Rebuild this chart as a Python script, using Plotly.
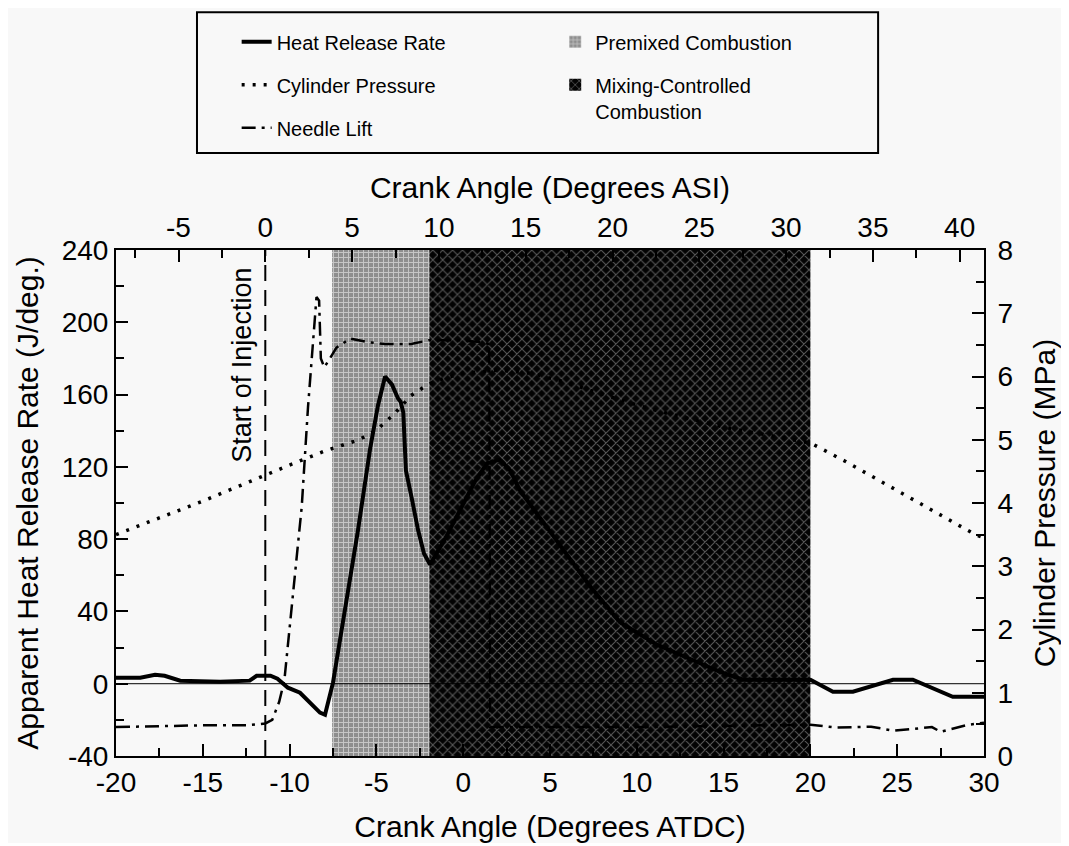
import plotly.graph_objects as go

# ---------------- data ----------------
# Heat release rate (J/deg) vs crank angle (deg ATDC)
hrr_x = [-20, -18.6, -17.75, -17.2, -16.3, -14, -12.3, -11.9, -11.1, -10.7, -10.1, -9.4,
         -8.25, -7.96, -7.5, -6.81, -6.06, -5.37, -4.91, -4.5, -4.1, -3.76, -3.6, -3.45,
         -3.3, -2.95, -2.6, -2.26, -1.91, -1.05, -0.18, 0.68, 1.37, 2.12, 2.7, 3.27, 4.71,
         6.15, 7.3, 9.03, 11.16, 13.24, 14.8, 16.12, 20.0, 21.3, 22.45, 24.76, 25.9, 28.2, 30]
hrr_y = [3.3, 3.3, 5.0, 4.4, 1.7, 1.1, 1.7, 4.4, 4.4, 2.8, -2.2, -5.0,
         -16.0, -17.2, 0.6, 41, 85, 129.5, 154, 170, 165.5, 158, 156, 150,
         118, 102, 85, 72, 66, 80, 96, 112, 122, 124, 118, 107, 88,
         69, 54, 34, 21.6, 13, 6.6, 2.2, 2.2, -4.4, -4.4, 2.2, 2.2, -7.2, -7.2]

# Cylinder pressure (MPa)
p_x = [-20, -15, -10, -8, -6, -5, -4, -3, -2, -1, 0, 2, 4, 6, 8, 10, 12, 15, 18, 20,
       22, 25, 28, 29.5, 30]
p_y = [3.5, 4.03, 4.6, 4.82, 5.0, 5.15, 5.4, 5.7, 5.88, 5.98, 6.05, 6.1, 6.05, 5.9,
       5.72, 5.55, 5.4, 5.2, 5.05, 4.95, 4.66, 4.2, 3.74, 3.5, 3.45]

# Needle lift (arbitrary, drawn on the heat-release scale)
nl_x = [-20, -15, -12.5, -11.4, -11.0, -10.6, -10.3, -9.86, -9.3, -8.94, -8.6, -8.45,
        -8.3, -8.2, -8.0, -7.3, -6.5, -5.5, -4.5, -3.0, -2.0, -1.0, 0.0, 1.0, 1.5,
        1.55, 3, 10, 20, 21.5, 23.5, 24.8, 27, 27.5, 29.1, 30]
nl_y = [-24, -23, -23, -22, -20, -10, 2, 43, 98, 153, 195, 214,
        212, 180, 175, 186, 191, 189, 188, 188, 190, 190, 190, 189, 188,
        -24, -24, -24, -22.7, -24.3, -23.8, -26, -24, -26.6, -22.7, -21.6]

# combustion phases (deg ATDC)
phase_names = ["Premixed Combustion", "Mixing-Controlled<br>Combustion"]
phase_start = [-7.55, -1.95]
phase_end = [-1.95, 20.0]

soi_atdc = -11.4          # start of injection (deg ATDC) = 0 deg ASI
hrr_range = [-40, 240]
p_range = [0, 8]
x_range = [-20, 30]
bottom_ticks = [-20, -15, -10, -5, 0, 5, 10, 15, 20, 25, 30]
top_ticks = [-5, 0, 5, 10, 15, 20, 25, 30, 35, 40]
hrr_ticks = [-40, 0, 40, 80, 120, 160, 200, 240]
p_ticks = [0, 1, 2, 3, 4, 5, 6, 7, 8]

FONT = "Liberation Sans, Arial, Helvetica, sans-serif"
BG = "#f8f8f8"

fig = go.Figure()

# shaded phases as bars spanning the full heat-release range
patterns = [
    dict(shape="+", bgcolor="#8e8e8e", fgcolor="#ffffff", size=5, solidity=0.35),
    dict(shape="x", bgcolor="#030303", fgcolor="#b0b0b0", size=7, solidity=0.27),
]
for i, (name, s, e, pat) in enumerate(zip(phase_names, phase_start, phase_end, patterns)):
    fig.add_trace(go.Bar(
        x=[(s + e) / 2], y=[hrr_range[1] - hrr_range[0]], base=[hrr_range[0]],
        width=[e - s], name=name, legend="legend2", legendgroup="p%d" % i,
        marker=dict(color=pat["bgcolor"], line=dict(width=0), pattern=pat),
        hoverinfo="skip",
    ))

# zero line
fig.add_trace(go.Scatter(x=x_range, y=[0, 0], mode="lines",
                         line=dict(color="black", width=1), showlegend=False,
                         hoverinfo="skip"))
# start of injection marker
fig.add_trace(go.Scatter(x=[soi_atdc, soi_atdc], y=hrr_range, mode="lines",
                         line=dict(color="black", width=2, dash="16px,9px"),
                         showlegend=False, hoverinfo="skip"))

fig.add_trace(go.Scatter(x=hrr_x, y=hrr_y, mode="lines", name="Heat Release Rate",
                         line=dict(color="black", width=4), legendgroup="a"))
fig.add_trace(go.Scatter(x=p_x, y=p_y, mode="lines", name="Cylinder Pressure",
                         yaxis="y2", line=dict(color="black", width=3.5, dash="3px,8px"),
                         legendgroup="b"))
fig.add_trace(go.Scatter(x=nl_x, y=nl_y, mode="lines", name="Needle Lift",
                         line=dict(color="black", width=2.5, dash="14px,6px,3px,6px"),
                         legendgroup="c"))
# invisible trace to activate the top axis
fig.add_trace(go.Scatter(x=[x_range[0] - soi_atdc, x_range[1] - soi_atdc], y=[None, None],
                         xaxis="x2", mode="lines", showlegend=False, hoverinfo="skip"))

axis_common = dict(showline=True, linecolor="black", linewidth=2, ticks="inside",
                   ticklen=12, tickwidth=1.5, tickcolor="black", showgrid=False,
                   zeroline=False, automargin=False,
                   tickfont=dict(size=28, color="black", family=FONT),
                   title_font=dict(size=30, color="black", family=FONT))
minor_common = dict(ticks="inside", ticklen=8, tickcolor="black", tickwidth=1.5)


def lab(v):
    return [str(t) for t in v]


# page body has an 8px margin; figure is sized so the plot area lands on the reference
fig.update_layout(
    width=1053, height=835,
    margin=dict(l=108, r=77, t=242, b=87, autoexpand=False),
    paper_bgcolor=BG, plot_bgcolor=BG,
    font=dict(family=FONT, color="black"),
    barmode="overlay",
    xaxis=dict(range=x_range, tickvals=bottom_ticks, ticktext=lab(bottom_ticks),
               minor=dict(dtick=2.5, **minor_common),
               title=dict(text="Crank Angle (Degrees ATDC)", standoff=24), **axis_common),
    xaxis2=dict(range=[x_range[0] - soi_atdc, x_range[1] - soi_atdc], overlaying="x",
                side="top", tickvals=top_ticks, ticktext=lab(top_ticks),
                minor=dict(dtick=2.5, **minor_common),
                title=dict(text="Crank Angle (Degrees ASI)", standoff=4), **axis_common),
    yaxis=dict(range=hrr_range, tickvals=hrr_ticks, ticktext=lab(hrr_ticks),
               minor=dict(dtick=20, **minor_common),
               title=dict(text="Apparent Heat Release Rate (J/deg.)", standoff=14),
               **axis_common),
    yaxis2=dict(range=p_range, tickvals=p_ticks, ticktext=lab(p_ticks),
                overlaying="y", side="right", ticklabelstandoff=6,
                minor=dict(dtick=0.5, **minor_common),
                title=dict(text="Cylinder Pressure (MPa)", standoff=22), **axis_common),
    legend=dict(x=0.139, y=1.45, xanchor="left", yanchor="top", bgcolor="rgba(0,0,0,0)",
                font=dict(size=20, family=FONT), tracegroupgap=14, traceorder="grouped"),
    legend2=dict(x=0.506, y=1.45, xanchor="left", yanchor="top", bgcolor="rgba(0,0,0,0)",
                 font=dict(size=20, family=FONT), tracegroupgap=14, traceorder="grouped",
                 valign="top"),
    showlegend=True,
    shapes=[dict(type="rect", xref="paper", yref="paper", x0=0.0933, x1=0.878,
                 y0=1.1917, y1=1.470, line=dict(color="black", width=2))],
    annotations=[dict(text="Start of Injection", x=-12.74, y=176, xref="x", yref="y",
                      textangle=-90, showarrow=False, font=dict(size=27, family=FONT))],
)

fig.write_html("out.html")
